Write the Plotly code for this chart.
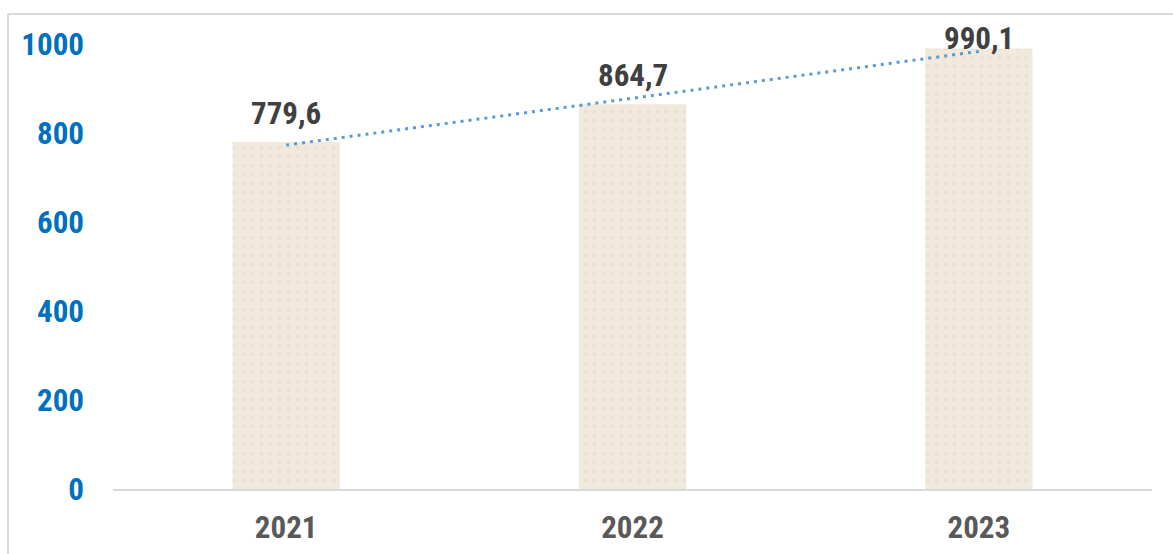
import plotly.graph_objects as go
import numpy as np

# Values by year
years = ["2021", "2022", "2023"]
values = [779.6, 864.7, 990.1]
y_ticks = [0, 200, 400, 600, 800, 1000]

# Canvas and plot-area geometry (pixels)
W, H = 1173, 554
M_L, M_R, M_T, M_B = 113, 21, 44, 65
Y_MAX = 1000
plot_h = H - M_T - M_B
px_per_unit = plot_h / Y_MAX

FONT = "Liberation Sans Narrow, Arial Narrow, Roboto Condensed, Arial, sans-serif"

# Linear trend fitted over the three years
xi = np.arange(len(values))
slope, intercept = np.polyfit(xi, values, 1)
trend = intercept + slope * xi

fig = go.Figure()

fig.add_trace(go.Bar(
    x=years, y=values,
    width=0.31,
    marker=dict(
        color="#F0E9DC",
        line=dict(width=0),
        pattern=dict(shape=".", fgcolor="#E2DACC", bgcolor="#F0E9DC",
                     size=9, solidity=0.15),
    ),
    hoverinfo="skip",
))

fig.add_trace(go.Scatter(
    x=years, y=trend, mode="lines",
    line=dict(color="#5B9BD5", width=3, dash="3px,5px"),
    hoverinfo="skip",
))

# Value labels above bars, kept inside the chart frame
annotations = []
for i, v in enumerate(values):
    bar_top_px = M_T + (Y_MAX - v) * px_per_unit
    shift = min(8, bar_top_px - 59)
    annotations.append(dict(
        x=i, y=v, xref="x", yref="y",
        text=f"{v:.1f}".replace(".", ","),
        showarrow=False, yanchor="bottom", yshift=shift,
        font=dict(family=FONT, size=31, color="#404040", weight="bold"),
    ))

# Outer chart frame (left and top edges visible)
plot_w = W - M_L - M_R
fx0 = (8 - M_L) / plot_w
fy1 = 1 + (M_T - 14) / plot_h
shapes = [
    dict(type="line", xref="paper", yref="paper", x0=fx0, x1=2, y0=fy1, y1=fy1,
         line=dict(color="#D9D9D9", width=2)),
    dict(type="line", xref="paper", yref="paper", x0=fx0, x1=fx0, y0=-2, y1=fy1,
         line=dict(color="#D9D9D9", width=2)),
]

fig.update_layout(
    width=W, height=H,
    margin=dict(l=M_L, r=M_R, t=M_T, b=M_B, autoexpand=False),
    paper_bgcolor="white", plot_bgcolor="white",
    showlegend=False,
    bargap=0.69,
    annotations=annotations,
    shapes=shapes,
    xaxis=dict(
        type="category", range=[-0.5, len(years) - 0.5],
        showgrid=False, zeroline=False,
        showline=True, linecolor="#D9D9D9", linewidth=2,
        ticks="", ticklabelstandoff=10,
        tickfont=dict(family=FONT, size=31, color="#595959", weight="bold"),
    ),
    yaxis=dict(
        range=[0, Y_MAX], tickvals=y_ticks,
        showgrid=False, zeroline=False, showline=False,
        ticks="", ticklabelstandoff=28,
        tickfont=dict(family=FONT, size=31, color="#0070C0", weight="bold"),
    ),
)

fig.write_html("out.html")
